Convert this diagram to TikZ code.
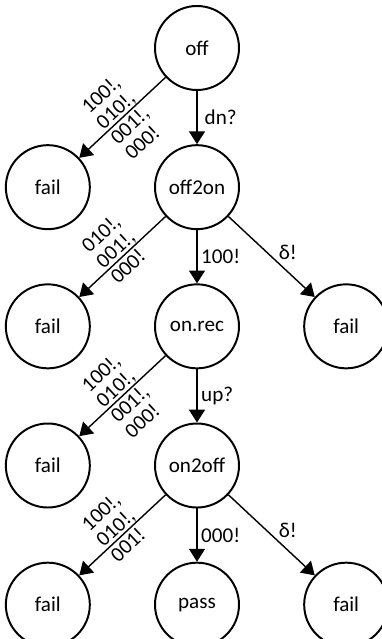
\documentclass[tikz,border=0pt]{standalone}
\usepackage{fontspec}
\setmainfont{Carlito}
\usetikzlibrary{arrows.meta, positioning}

\begin{document}
\begin{tikzpicture}[>={Triangle[length=0.32cm, width=0.4cm]}, font=\fontsize{15pt}{15pt}\selectfont, node distance=1.33cm and 1.58cm,
  state/.style={draw, circle, line width=1.4pt, minimum size=2.1cm, inner sep=0pt},
  trans/.style={->, line width=1pt}]
\useasboundingbox (-4.925,1.2) rectangle (4.6,-14.775);
% states, one column per outcome
\node[state] (off) {off};
\node[state, below=of off] (off2on) {off2on};
\node[state, left=of off2on] (fail1) {fail};
\node[state, below=of off2on] (onrec) {on.rec};
\node[state, left=of onrec] (fail2) {fail};
\node[state, right=of onrec] (fail3) {fail};
\node[state, below=of onrec] (on2off) {on2off};
\node[state, left=of on2off] (fail4) {fail};
\node[state, below=of on2off] (pass) {pass};
\node[state, left=of pass] (fail5) {fail};
\node[state, right=of pass] (fail6) {fail};
% transitions
\draw[trans] (off) -- node[right, inner sep=5pt] {dn?} (off2on);
\draw[trans] (off) -- node[sloped, align=left] {100!,\\010!,\\001!,\\000!} (fail1);
\draw[trans] (off2on) -- node[right, inner sep=2.5pt] {100!} (onrec);
\draw[trans] (off2on) -- node[sloped, align=left, yshift=7.5pt] {010!,\\001!,\\000!} (fail2);
\draw[trans] (off2on) -- node[pos=0.44, right=5pt] {δ!} (fail3);
\draw[trans] (onrec) -- node[right, inner sep=2.5pt] {up?} (on2off);
\draw[trans] (onrec) -- node[sloped, align=left] {100!,\\010!,\\001!,\\000!} (fail4);
\draw[trans] (on2off) -- node[right, inner sep=2.5pt] {000!} (pass);
\draw[trans] (on2off) -- node[sloped, align=left, yshift=7.5pt] {100!,\\010!,\\001!} (fail5);
\draw[trans] (on2off) -- node[pos=0.44, right=5pt] {δ!} (fail6);
\end{tikzpicture}
\end{document}
